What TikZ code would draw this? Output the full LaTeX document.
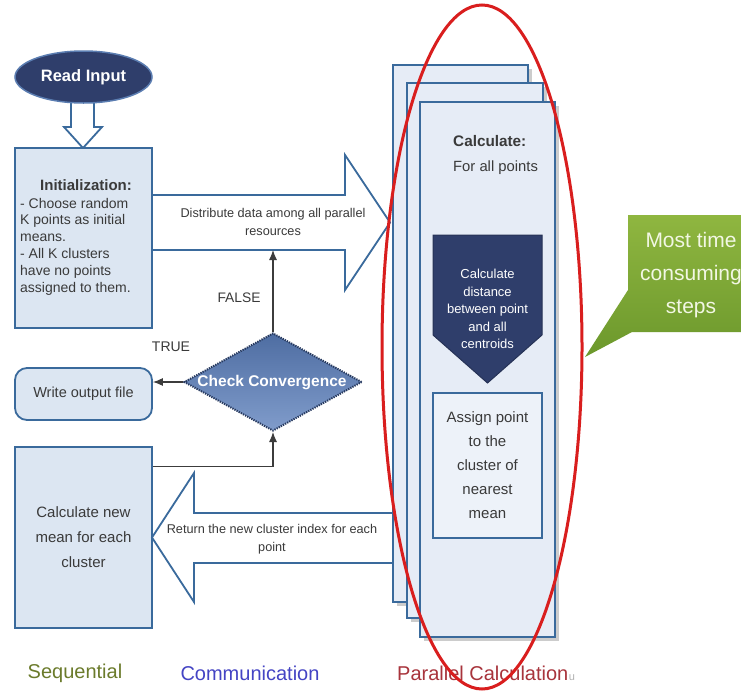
\documentclass[tikz,border=0pt]{standalone}
\usepackage{fontspec}
\setmainfont{Liberation Sans}
\usetikzlibrary{shapes.geometric,shadows,arrows.meta,calc}

\definecolor{boxfill}{HTML}{DCE6F2}
\definecolor{boxline}{HTML}{3A6A9C}
\definecolor{panelfill}{HTML}{E6ECF6}
\definecolor{navy}{HTML}{2F3E6B}
\definecolor{navyline}{HTML}{5B7DB1}
\definecolor{txt}{HTML}{3A3A3A}
\definecolor{flowline}{HTML}{3C3C3C}
\definecolor{diamtop}{HTML}{4E6DA2}
\definecolor{diambot}{HTML}{809CCB}
\definecolor{diamline}{HTML}{27395E}
\definecolor{greentop}{HTML}{8FB640}
\definecolor{greenbot}{HTML}{6C982C}
\definecolor{greentext}{HTML}{F2F7E4}
\definecolor{redring}{HTML}{D91E1E}
\definecolor{seqcol}{HTML}{6B7B2B}
\definecolor{comcol}{HTML}{4444C4}
\definecolor{parcol}{HTML}{A8343C}

\newcommand\setfs[2]{\fontsize{#1}{#2}\selectfont}

\begin{document}
\begin{tikzpicture}[x=1pt,y=-1pt,
  bluebox/.style={draw=boxline, line width=1.8pt, fill=boxfill, inner sep=0pt, text=txt},
  hollow/.style={draw=boxline, line width=1.8pt, fill=white, line join=miter},
  flow/.style={draw=flowline, line width=1.1pt, -{Latex[length=10pt,width=8pt]}},
  panel/.style={draw=boxline, line width=1.8pt, fill=panelfill, inner sep=0pt,
    drop shadow={shadow xshift=4pt, shadow yshift=-4pt, fill=black!20, opacity=1}},
  label/.style={text=txt, inner sep=0pt},
]
% canvas
\path[use as bounding box, fill=white] (0,0) rectangle (741,691);

% hollow arrow from the input step down to initialization
\draw[hollow] (71,95) -- (71,127) -- (64,127) -- (83,148) -- (102,127) -- (94,127) -- (94,95);

% read input terminator
\node[ellipse, draw=navyline, line width=1.5pt, fill=navy, minimum width=137pt, minimum height=52pt,
      text=white, font=\setfs{16.5}{19}\bfseries] (read) at (83.5,77) {Read Input};

% initialization step
\node[bluebox, minimum width=137pt, minimum height=180pt] (init) at (83.5,238) {};
\node[label, font=\setfs{15}{18}\bfseries] (inittitle) at (86,185) {Initialization:};
\node[label, anchor=west, align=left, font=\setfs{14}{16.8}] (initbody) at (20,246.5)
  {- Choose random\\K points as initial\\means.\\- All K clusters\\have no points\\assigned to them.};

% output step
\node[bluebox, rounded corners=12pt, minimum width=137pt, minimum height=52pt,
      font=\setfs{14.5}{17}] (write) at (83.5,394) {Write output file};

% new means step
\node[bluebox, minimum width=137pt, minimum height=181pt, align=center,
      font=\setfs{15}{25}] (mean) at (83.5,537.5) {Calculate new\\mean for each\\cluster};

% communication arrows
\draw[hollow] (152,195) -- (345,195) -- (345,155) -- (390,222.5) -- (345,290) -- (345,250) -- (152,250) -- cycle;
\node[label, align=center, font=\setfs{12.7}{18}] (distext) at (273,222) {Distribute data among all parallel\\resources};
\coordinate (disbottom) at (273,250);

\draw[hollow] (395,513) -- (194,513) -- (194,473) -- (152,537.5) -- (194,602) -- (194,563) -- (395,563);
\node[label, align=center, font=\setfs{12.7}{18}] (rettext) at (272,539) {Return the new cluster index for each\\point};

% convergence test
\node[diamond, draw=diamline, line width=2pt, dash pattern=on 1.3pt off 1.1pt,
      top color=diamtop, bottom color=diambot, minimum width=178pt, minimum height=98pt,
      inner sep=0pt] (conv) at (273,382) {};
\node[text=white, inner sep=0pt, font=\setfs{15.5}{18}\bfseries] (convtext) at (272,383) {Check Convergence};

\draw[flow] (conv.north) -- (disbottom);
\draw[flow] (conv.west) -- (conv.west -| write.east);
\draw[flow] ([yshift=-20pt]mean.north east) -| (conv.south);
\node[label, font=\setfs{13.8}{16}] (false) at (239,298) {FALSE};
\node[label, font=\setfs{14}{16}] (true) at (171,347) {TRUE};

% stacked parallel workers
\node[panel, minimum width=135pt, minimum height=537pt] (p1) at (460.5,333.5) {};
\node[panel, minimum width=136pt, minimum height=535pt] (p2) at (475,350.5) {};
\node[panel, minimum width=135pt, minimum height=535pt] (p3) at (487.5,369.5) {};

\node[label, anchor=west, font=\setfs{15.3}{18}\bfseries] (calchead) at (453,141) {Calculate:};
\node[label, anchor=west, font=\setfs{14.8}{18}] (calcsub) at (453,168) {For all points};

\draw[fill=navy, draw=navy!80!black, line width=1pt]
  (433,235) -- (542,235) -- (542,335) -- (487.5,383) -- (433,335) -- cycle;
\node[text=white, inner sep=0pt, align=center, font=\setfs{13}{17.5}] (disttext) at (487.5,309)
  {Calculate\\distance\\between point\\and all\\centroids};

\node[draw=boxline, line width=1.8pt, fill=panelfill!70!white, inner sep=0pt, text=txt,
      minimum width=109pt, minimum height=145pt, align=center, font=\setfs{15}{24}]
      (assign) at (487.5,465.5) {Assign point\\to the\\cluster of\\nearest\\mean};

% column captions
\node[text=seqcol, inner sep=0pt, font=\setfs{20}{24}] (seq) at (75,673) {Sequential};
\node[text=comcol, inner sep=0pt, font=\setfs{20}{24}] (com) at (250,673) {Communication};
\node[text=parcol, inner sep=0pt, anchor=west, font=\setfs{20}{24}] (par) at (397,673) {Parallel Calculation};
\node[text=black!30, inner sep=0pt, anchor=base west, font=\setfs{11}{13}] (stray) at (par.base east) {u};

% emphasis ring
\draw[redring, line width=3pt] (482,347) ellipse [x radius=100, y radius=342];

% callout
\shade[top color=greentop, bottom color=greenbot]
  (628,215) -- (741,215) -- (741,332) -- (632,332) -- (585,357) -- (628,290) -- cycle;
\node[text=greentext, inner sep=0pt, align=center, font=\setfs{21}{33}] (note) at (691,275)
  {Most time\\consuming\\steps};
\end{tikzpicture}
\end{document}
